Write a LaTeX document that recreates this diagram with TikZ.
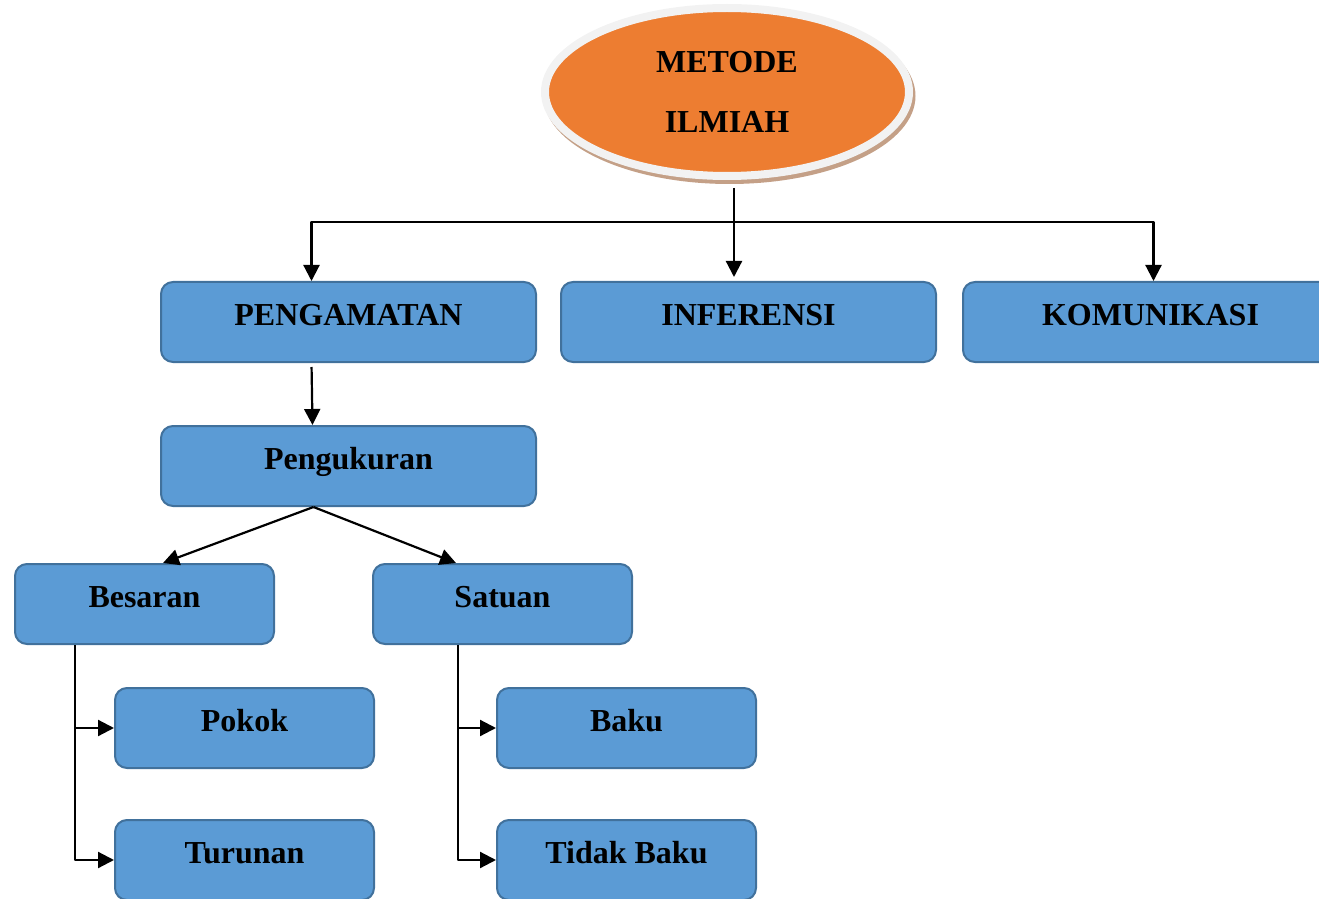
\documentclass[tikz,border=0pt]{standalone}
\usepackage{fontspec}
\setmainfont{Liberation Serif}
\usepackage{tikz}
\usetikzlibrary{arrows.meta,calc,shapes.geometric}

\definecolor{kotak}{HTML}{5B9BD5}
\definecolor{tepi}{HTML}{41719C}
\definecolor{jingga}{HTML}{ED7D31}
\definecolor{bayang}{RGB}{196,160,135}

\tikzset{
  box/.style={draw=tepi, fill=kotak, line width=1pt, rounded corners=6pt,
    minimum height=40pt, text height=11pt, text depth=7.5pt,
    font=\fontsize{16}{19}\selectfont\bfseries},
  bigbox/.style={box, minimum width=187.5pt},
  smallbox/.style={box, minimum width=129.5pt},
  arr/.style={-{Triangle[length=8pt,width=8pt]}, line width=1.1pt},
  line/.style={line width=1.1pt}
}

\begin{document}
\begin{tikzpicture}[x=0.5pt, y=-0.5pt, line join=round]
  \useasboundingbox (0,0) rectangle (1319,899);
  \node[ellipse, fill=bayang, minimum width=186pt, minimum height=88pt] (shadow) at (729.5,96) {};
  \node[ellipse, fill=jingga, draw=gray!10, line width=4pt, minimum width=182pt, minimum height=84pt,
    align=center, font=\fontsize{16}{30}\selectfont\bfseries] (metode) at (727,92) {METODE\\ILMIAH};
  \node[bigbox] (pengamatan) at (348.5,322) {PENGAMATAN};
  \node[bigbox] (inferensi) at (748.5,322) {INFERENSI};
  \node[bigbox] (komunikasi) at (1150.5,322) {KOMUNIKASI};
  \node[bigbox] (pengukuran) at (348.5,466) {Pengukuran};
  \node[smallbox] (besaran) at (144.5,604) {Besaran};
  \node[smallbox] (satuan) at (502.5,604) {Satuan};
  \node[smallbox] (pokok) at (244.5,728) {Pokok};
  \node[smallbox] (turunan) at (244.5,860) {Turunan};
  \node[smallbox] (baku) at (626.5,728) {Baku};
  \node[smallbox] (tidakbaku) at (626.5,860) {Tidak Baku};
  \coordinate (hub) at (734,222);
  \draw[line, shorten <=4pt] (metode.south -| hub) -- (hub);
  \draw[arr] (hub) -| ($(pengamatan.north)+(-37,0)$);
  \draw[arr, shorten >=2pt] (hub) -- (hub |- inferensi.north);
  \draw[arr] (hub) -| ($(komunikasi.north)+(3,0)$);
  \draw[arr, shorten <=2pt] ($(pengamatan.south)+(-37,0)$) -- ($(pengukuran.north)+(-36,0)$);
  \draw[arr] ($(pengukuran.south)+(-35,0)$) -- ($(besaran.north)+(18.5,0)$);
  \draw[arr] ($(pengukuran.south)+(-35,0)$) -- ($(satuan.north)+(-46.5,0)$);
  \draw[arr] ($(besaran.south)+(-69.5,0)$) |- (pokok.west);
  \draw[arr] ($(besaran.south)+(-69.5,0)$) |- (turunan.west);
  \draw[arr] ($(satuan.south)+(-44.5,0)$) |- (baku.west);
  \draw[arr] ($(satuan.south)+(-44.5,0)$) |- (tidakbaku.west);
\end{tikzpicture}
\end{document}
